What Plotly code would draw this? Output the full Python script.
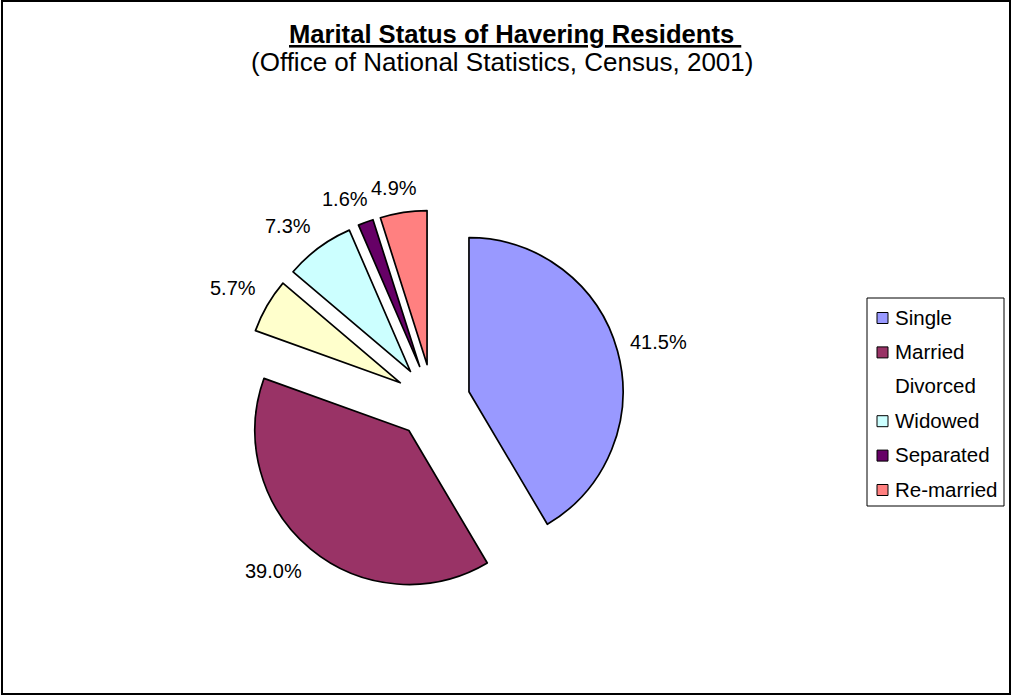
import math
import plotly.graph_objects as go

# ---- data ----
categories = ["Single", "Married", "Divorced", "Widowed", "Separated", "Re-married"]
values = [41.5, 39.0, 5.7, 7.3, 1.6, 4.9]
colors = ["#9999FF", "#993366", "#FFFFCC", "#CCFFFF", "#660066", "#FF8080"]
legend_key_visible = [True, True, False, True, True, True]
title_text = "Marital Status of Havering Residents"
subtitle_text = "(Office of National Statistics, Census, 2001)"

FONT = "Arial, Liberation Sans, sans-serif"
W, H = 1012, 696
LABEL_SIZE = 20


def px(x):
    return x / W


def py(y):
    return 1 - y / H


def clamp(v, lo, hi):
    return max(lo, min(hi, v))


# pie geometry (pixels)
cx, cy = 432.8, 401.6
pull = 0.2435
half = 191.5
label_r = 205

fig = go.Figure(
    go.Pie(
        labels=categories,
        values=values,
        sort=False,
        direction="clockwise",
        rotation=0,
        marker=dict(colors=colors, line=dict(color="black", width=1.7)),
        pull=[pull] * len(values),
        textinfo="none",
        showlegend=False,
        domain=dict(x=[px(cx - half), px(cx + half)], y=[py(cy + half), py(cy - half)]),
    )
)

shapes = []
annotations = []

# data labels placed outside each slice along its mid-angle
total = sum(values)
cum = 0.0
for v in values:
    mid = (cum + v / 2) / total * 2 * math.pi
    cum += v
    s, c = math.sin(mid), math.cos(mid)
    ax, ay = cx + label_r * s, cy - label_r * c
    txt = f"{v:.1f}%"
    ndig = sum(ch.isdigit() for ch in txt)
    w_est = LABEL_SIZE * (0.556 * ndig + 0.278 + 0.889)
    h_est = 22
    tx = ax + clamp(s / 0.5, -1, 1) * w_est / 2
    ty = ay - clamp(c / 0.5, -1, 1) * h_est / 2
    annotations.append(dict(text=txt, x=px(tx), y=py(ty), xref="paper", yref="paper",
                            xanchor="center", yanchor="middle", showarrow=False,
                            font=dict(size=LABEL_SIZE, color="black", family=FONT)))

# outer frame
shapes.append(dict(type="rect", xref="paper", yref="paper",
                   x0=px(2), x1=px(1010), y0=py(694), y1=py(1),
                   line=dict(color="black", width=2), fillcolor="rgba(0,0,0,0)"))

# legend box
shapes.append(dict(type="rect", xref="paper", yref="paper",
                   x0=px(867), x1=px(1004), y0=py(506), y1=py(298),
                   line=dict(color="black", width=1), fillcolor="white"))
for i, (cat, col, vis) in enumerate(zip(categories, colors, legend_key_visible)):
    yc = 317 + 34.4 * i
    if vis:
        shapes.append(dict(type="rect", xref="paper", yref="paper",
                           x0=px(877), x1=px(888), y0=py(yc + 6.5), y1=py(yc - 4.5),
                           line=dict(color="black", width=1), fillcolor=col))
    annotations.append(dict(text=cat, x=px(893), y=py(yc), xref="paper", yref="paper",
                            xanchor="left", yanchor="middle", showarrow=False,
                            font=dict(size=20.5, color="black", family=FONT)))

# titles
annotations.append(dict(text="<b><u>" + title_text + "\u00a0</u></b>", x=px(515), y=py(34),
                        xref="paper", yref="paper", xanchor="center", yanchor="middle",
                        showarrow=False, font=dict(size=25.6, color="black", family=FONT)))
annotations.append(dict(text=subtitle_text, x=px(502), y=py(62),
                        xref="paper", yref="paper", xanchor="center", yanchor="middle",
                        showarrow=False, font=dict(size=26, color="black", family=FONT)))

fig.update_layout(
    width=W, height=H,
    margin=dict(l=0, r=0, t=0, b=0),
    paper_bgcolor="white",
    plot_bgcolor="white",
    shapes=shapes,
    annotations=annotations,
    font=dict(family=FONT, color="black"),
)

fig.write_html("out.html", config={"displayModeBar": False},
               post_script="document.body.style.margin='0px';")
